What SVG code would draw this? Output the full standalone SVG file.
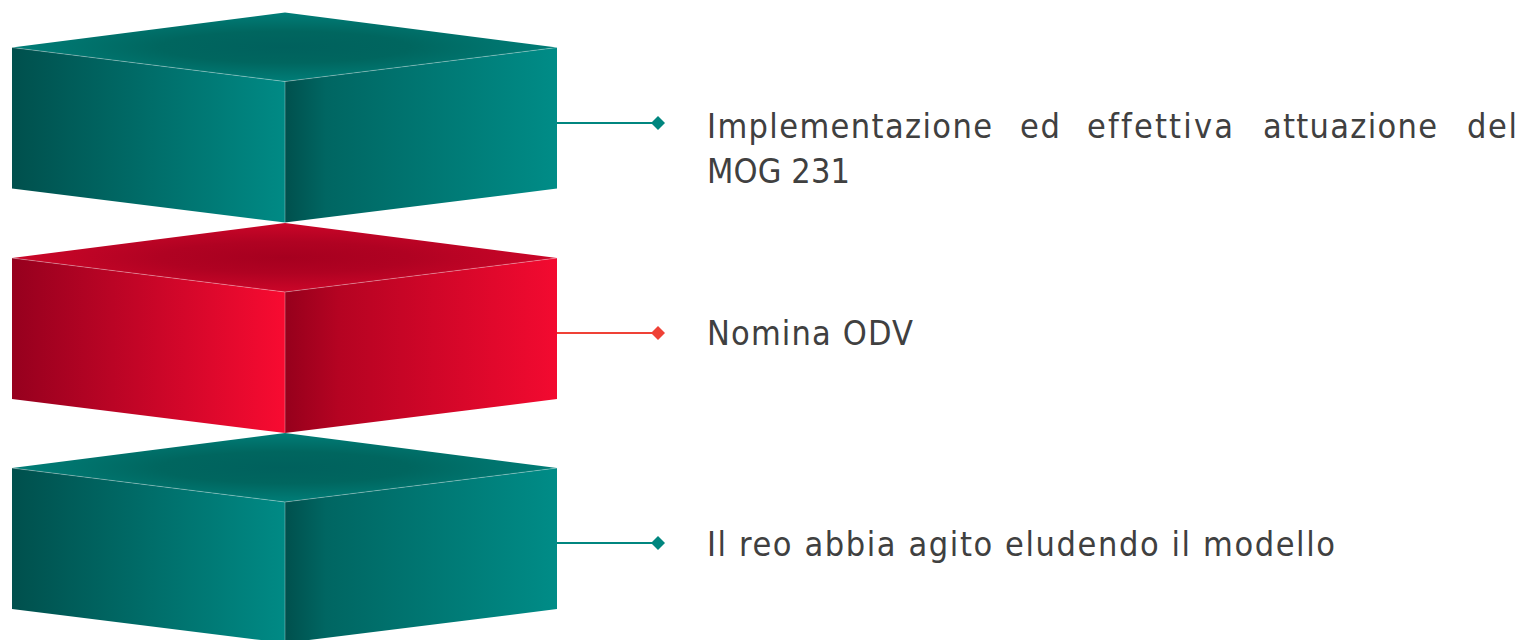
<svg xmlns="http://www.w3.org/2000/svg" width="1524" height="640" viewBox="0 0 1524 640">
  <defs>
    <!-- teal block faces -->
    <linearGradient id="tealLeft" x1="0" y1="0" x2="1" y2="0">
      <stop offset="0" stop-color="#00504d"/>
      <stop offset="1" stop-color="#008a85"/>
    </linearGradient>
    <linearGradient id="tealRight" x1="0" y1="0" x2="1" y2="0">
      <stop offset="0" stop-color="#00504d"/>
      <stop offset="0.15" stop-color="#006662"/>
      <stop offset="1" stop-color="#008c87"/>
    </linearGradient>
    <radialGradient id="tealTop" cx="0.5" cy="0.5" r="0.65">
      <stop offset="0" stop-color="#00615d"/>
      <stop offset="0.35" stop-color="#00665f"/>
      <stop offset="1" stop-color="#008a85"/>
    </radialGradient>
    <!-- red block faces -->
    <linearGradient id="redLeft" x1="0" y1="0" x2="1" y2="0">
      <stop offset="0" stop-color="#96001e"/>
      <stop offset="1" stop-color="#f80b31"/>
    </linearGradient>
    <linearGradient id="redRight" x1="0" y1="0" x2="1" y2="0">
      <stop offset="0" stop-color="#96001c"/>
      <stop offset="0.2" stop-color="#b50322"/>
      <stop offset="1" stop-color="#f30a30"/>
    </linearGradient>
    <radialGradient id="redTop" cx="0.5" cy="0.5" r="0.65">
      <stop offset="0" stop-color="#a6001f"/>
      <stop offset="0.35" stop-color="#b00222"/>
      <stop offset="1" stop-color="#da082c"/>
    </radialGradient>
    <!-- one block, drawn at its own origin -->
    <polygon id="faceTop" points="285,0 557,35 285,69 12,35"/>
    <polygon id="faceLeft" points="12,35 285,69 285,210 12,176"/>
    <polygon id="faceRight" points="285,69 557,35 557,176 285,210"/>
    <path id="seams" d="M12,35 L285,69 L557,35 M285,69 L285,210"/>
  </defs>
  <style>
    .seam { fill: none; stroke: #ffffff; stroke-opacity: 0.3; stroke-width: 1; }
    .label { font-family: "DejaVu Sans Condensed", "DejaVu Sans", sans-serif; font-size: 34px; fill: #404040; font-variant-ligatures: none; }
    .link { stroke-width: 2; fill: none; }
    .teal { stroke: #00867f; }
    .red { stroke: #ef4136; }
    .dotTeal { fill: #00867f; }
    .dotRed { fill: #ef4136; }
  </style>

  <rect width="1524" height="640" fill="#ffffff"/>

  <!-- connectors -->
  <g id="connectors">
    <line class="link teal" x1="557" y1="123" x2="652" y2="123"/>
    <polygon class="dotTeal" points="658,116 665,123 658,130 651,123"/>
    <line class="link red" x1="557" y1="333" x2="652" y2="333"/>
    <polygon class="dotRed" points="658,326 665,333 658,340 651,333"/>
    <line class="link teal" x1="557" y1="543" x2="652" y2="543"/>
    <polygon class="dotTeal" points="658,536 665,543 658,550 651,543"/>
  </g>

  <!-- top block -->
  <g id="block-top" transform="translate(0,12.5)">
    <use href="#faceTop" fill="url(#tealTop)"/>
    <use href="#faceLeft" fill="url(#tealLeft)"/>
    <use href="#faceRight" fill="url(#tealRight)"/>
    <use href="#seams" class="seam"/>
  </g>
  <g id="label-top" class="label">
    <text x="707" y="138" textLength="285" lengthAdjust="spacing">Implementazione</text>
    <text x="1020" y="138" textLength="40" lengthAdjust="spacing">ed</text>
    <text x="1087" y="138" textLength="146" lengthAdjust="spacing">effettiva</text>
    <text x="1263" y="138" textLength="174" lengthAdjust="spacing">attuazione</text>
    <text x="1467" y="138" textLength="50" lengthAdjust="spacing">del</text>
    <text x="707" y="183" textLength="143" lengthAdjust="spacing">MOG 231</text>
  </g>

  <!-- middle block -->
  <g id="block-middle" transform="translate(0,223)">
    <use href="#faceTop" fill="url(#redTop)"/>
    <use href="#faceLeft" fill="url(#redLeft)"/>
    <use href="#faceRight" fill="url(#redRight)"/>
    <use href="#seams" class="seam"/>
  </g>
  <g id="label-middle" class="label">
    <text x="707" y="345" textLength="206" lengthAdjust="spacing">Nomina ODV</text>
  </g>

  <!-- bottom block -->
  <g id="block-bottom" transform="translate(0,433)">
    <use href="#faceTop" fill="url(#tealTop)"/>
    <use href="#faceLeft" fill="url(#tealLeft)"/>
    <use href="#faceRight" fill="url(#tealRight)"/>
    <use href="#seams" class="seam"/>
  </g>
  <g id="label-bottom" class="label">
    <text x="707" y="556" textLength="628" lengthAdjust="spacing">Il reo abbia agito eludendo il modello</text>
  </g>
</svg>
